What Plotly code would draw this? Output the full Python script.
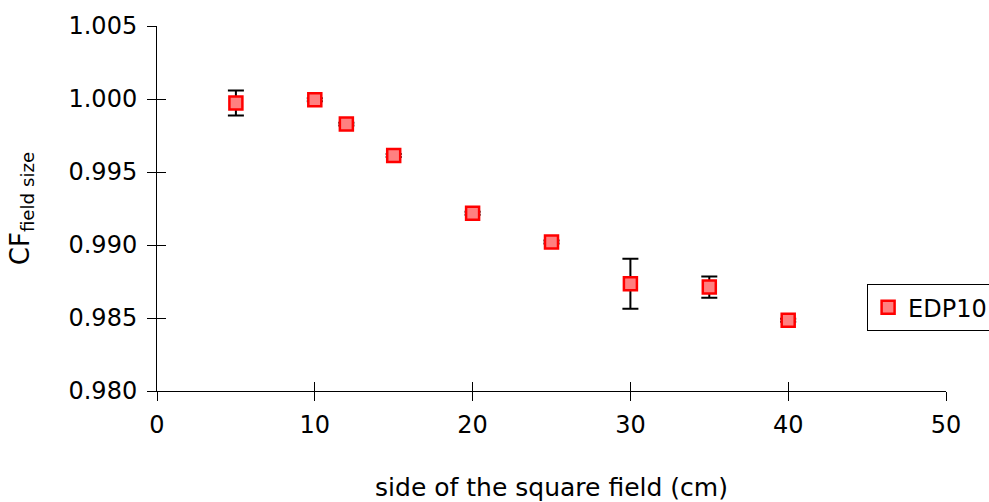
import plotly.graph_objects as go

field_side = [5, 10, 12, 15, 20, 25, 30, 35, 40]
cf_values = [0.99973, 0.99995, 0.99828, 0.99613, 0.99218, 0.99020, 0.98735, 0.98712, 0.98485]
cf_errors = [0.00086, 0.0001, 0.0001, 0.0001, 0.0001, 0.0001, 0.00171, 0.00073, 0.0001]
x_ticks = [0, 10, 20, 30, 40, 50]
y_ticks = [0.980, 0.985, 0.990, 0.995, 1.000, 1.005]

FONT = "DejaVu Sans, Liberation Sans, Arial, sans-serif"

fig = go.Figure()
fig.add_trace(go.Scatter(
    x=field_side, y=cf_values, mode="markers", name="EDP10",
    marker=dict(symbol="square", size=13, color="#ff8080",
                line=dict(color="#ff0000", width=2.5)),
    error_y=dict(type="data", array=cf_errors, visible=True,
                 color="black", thickness=2, width=8),
))
# empty trace on overlay axes so the inside half of the crossing ticks is drawn
fig.add_trace(go.Scatter(x=[None], y=[None], xaxis="x2", yaxis="y2",
                         showlegend=False, hoverinfo="skip"))

tick_common = dict(showgrid=False, zeroline=False, tickcolor="black", ticklen=9, tickwidth=1)

fig.update_layout(
    width=989, height=502,
    margin=dict(l=157, r=43, t=26, b=111, autoexpand=False),
    paper_bgcolor="white", plot_bgcolor="white",
    font=dict(family=FONT, color="black"),
    xaxis=dict(range=[0, 50], tickvals=x_ticks, ticks="outside", showline=True,
               linecolor="black", linewidth=1, automargin=False,
               tickfont=dict(size=24), ticklabelstandoff=3,
               title=dict(text="side of the square field (cm)", font=dict(size=25), standoff=42),
               **tick_common),
    yaxis=dict(range=[0.980, 1.005], tickvals=y_ticks, tickformat=".3f", ticks="outside",
               showline=True, linecolor="black", linewidth=1, automargin=False,
               tickfont=dict(size=24), ticklabelstandoff=5,
               title=dict(text="CF<sub>field size</sub>", font=dict(size=26), standoff=31),
               **tick_common),
    xaxis2=dict(range=[0, 50], tickvals=x_ticks, ticks="inside", showticklabels=False,
                overlaying="x", anchor="y", side="bottom", showline=False,
                automargin=False, **tick_common),
    yaxis2=dict(range=[0.980, 1.005], tickvals=y_ticks, ticks="inside", showticklabels=False,
                overlaying="y", anchor="x", side="left", showline=False,
                automargin=False, **tick_common),
    legend=dict(x=0.9, y=0.293, xanchor="left", yanchor="top",
                bordercolor="black", borderwidth=1, bgcolor="white",
                font=dict(size=24), itemwidth=30),
    showlegend=True,
)

fig.write_html("out.html", config={"displayModeBar": False},
               post_script="document.body.style.margin='0';document.body.style.overflow='hidden';")
